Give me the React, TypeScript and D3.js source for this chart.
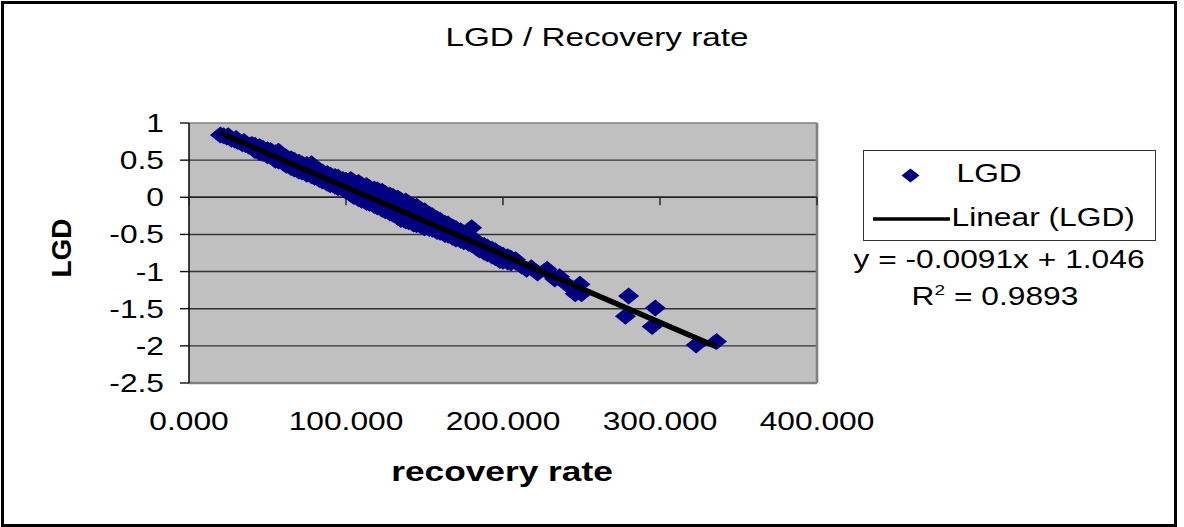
import React from 'react';
import * as d3 from 'd3';

// ---- data ----
const recoveryRate = [
  20, 22, 24, 25, 26, 27, 29, 30, 31, 33, 34, 35, 36, 38, 39, 40, 40,
  42, 42, 45, 45, 47, 47, 50, 50, 50, 52, 52, 55, 55, 55, 57, 57, 60, 60, 60,
  62, 62, 65, 65, 65, 67, 67, 70, 70, 70, 72, 72, 75, 75, 75, 78, 78, 78,
  80, 80, 83, 83, 83, 85, 85, 88, 88, 88, 90, 90, 93, 93, 93, 95, 95, 98, 98, 98, 100, 100,
  103, 103, 103, 105, 105, 108, 108, 108, 110, 110, 113, 113, 113, 115, 115, 118, 118, 118,
  120, 120, 123, 123, 123, 125, 125, 128, 128, 128, 130, 130, 133, 133, 133, 135, 135,
  138, 138, 138, 140, 140, 143, 143, 143, 145, 145, 148, 148, 148, 150, 150,
  153, 153, 153, 155, 155, 158, 158, 158, 160, 160, 163, 163, 163, 165, 165,
  168, 168, 168, 170, 170, 173, 173, 173, 175, 175, 178, 178, 178, 180, 180,
  183, 183, 183, 185, 185, 188, 188, 188, 190, 190, 193, 193, 193, 195, 195,
  198, 198, 198, 200, 200, 203, 203, 205, 205, 208, 208,
  212, 215, 218, 222, 228, 231, 233, 236, 240, 244, 246, 249, 250,
  280, 278, 297, 295, 323, 336,
];
const lgd = [
  0.84, 0.83, 0.81, 0.83, 0.8, 0.78, 0.77, 0.79, 0.75, 0.74, 0.72, 0.75, 0.71, 0.69, 0.7, 0.67, 0.71,
  0.7, 0.63, 0.68, 0.6, 0.66, 0.59, 0.64, 0.56, 0.6, 0.63, 0.55, 0.6, 0.5, 0.56, 0.62, 0.49, 0.56, 0.46, 0.52,
  0.54, 0.43, 0.52, 0.4, 0.46, 0.5, 0.38, 0.47, 0.35, 0.42, 0.45, 0.34, 0.44, 0.31, 0.38, 0.45, 0.29, 0.36,
  0.4, 0.27, 0.36, 0.24, 0.3, 0.34, 0.22, 0.32, 0.19, 0.26, 0.3, 0.17, 0.28, 0.15, 0.22, 0.27, 0.13, 0.24, 0.11, 0.17, 0.23, 0.08,
  0.24, 0.04, 0.14, 0.21, 0.01, 0.2, -0.02, 0.1, 0.17, -0.04, 0.16, -0.07, 0.06, 0.13, -0.08, 0.11, -0.11, 0.02,
  0.1, -0.13, 0.08, -0.16, -0.02, 0.05, -0.18, 0.03, -0.21, -0.06, 0.01, -0.23, -0.01, -0.27, -0.1, -0.04, -0.3,
  -0.05, -0.32, -0.14, -0.08, -0.33, -0.12, -0.36, -0.2, -0.12, -0.37, -0.17, -0.39, -0.25, -0.18, -0.41,
  -0.23, -0.42, -0.3, -0.25, -0.43, -0.29, -0.46, -0.35, -0.31, -0.47, -0.35, -0.5, -0.4, -0.36, -0.51,
  -0.4, -0.54, -0.45, -0.42, -0.56, -0.45, -0.58, -0.5, -0.48, -0.6, -0.5, -0.62, -0.55, -0.41, -0.64,
  -0.6, -0.68, -0.63, -0.62, -0.71, -0.65, -0.74, -0.69, -0.67, -0.76, -0.7, -0.79, -0.75, -0.72, -0.81,
  -0.76, -0.85, -0.8, -0.78, -0.86, -0.8, -0.87, -0.82, -0.88, -0.84, -0.87,
  -0.93, -0.97, -0.95, -1.02, -0.97, -1.05, -1.1, -1.07, -1.16, -1.22, -1.3, -1.17, -1.3,
  -1.33, -1.6, -1.49, -1.74, -1.99, -1.94,
];

const yTicks = [1, 0.5, 0, -0.5, -1, -1.5, -2, -2.5];
const yTickLabels = ['1', '0.5', '0', '-0.5', '-1', '-1.5', '-2', '-2.5'];
const xTicks = [0, 100, 200, 300, 400];
const xTickLabels = ['0.000', '100.000', '200.000', '300.000', '400.000'];

const trendSlope = -0.0091;
const trendIntercept = 1.046;
const equationText = 'y = -0.0091x + 1.046';
const r2Text = '0.9893';

const chartTitle = 'LGD / Recovery rate';
const xTitle = 'recovery rate';
const yTitle = 'LGD';
const legendPoints = 'LGD';
const legendLine = 'Linear (LGD)';

// ---- styling ----
const FONT = '"Liberation Sans", Arial, Helvetica, sans-serif';
const SX = 1.27;
const NAVY = '#000080';

function T({ x, y, anchor = 'start', size = 25, weight = 'normal', sx = SX, children }: any) {
  return (
    <text
      transform={`translate(${x},${y}) scale(${sx},1)`}
      textAnchor={anchor}
      fontSize={size}
      fontWeight={weight}
      fontFamily={FONT}
      fill="#000"
    >
      {children}
    </text>
  );
}

const diamond = (w: number, h: number) => `M0,${-h}L${w},0L0,${h}L${-w},0Z`;

export default function App() {
  const L = 189, R = 817, TOP = 123, B = 383;
  const x = d3.scaleLinear().domain([0, 400]).range([L, R]);
  const y = d3.scaleLinear().domain([-2.5, 1]).range([B, TOP]);

  const xs = recoveryRate;
  const xMin = d3.min(xs) as number;
  const xMax = d3.max(xs) as number;
  const trend = d3.line<number>()
    .x((d) => x(d))
    .y((d) => y(trendIntercept + trendSlope * d));

  const y0 = y(0);

  return (
    <svg
      width={1184}
      height={527}
      style={{ position: 'absolute', left: 0, top: 0, background: '#fff' }}
    >
      <rect x={0} y={0} width={1184} height={527} fill="#fff" />
      {/* outer border */}
      <rect x={2.5} y={2.5} width={1173} height={523} fill="none" stroke="#000" strokeWidth={3} />

      {/* title */}
      <T x={597} y={46} anchor="middle" size={25} sx={1.33}>{chartTitle}</T>

      {/* plot area */}
      <rect x={L} y={TOP} width={R - L} height={B - TOP} fill="#C0C0C0" />
      {yTicks.slice(1, -1).map((t) => (
        <line key={t} x1={L} x2={R} y1={y(t)} y2={y(t)} stroke="#333" strokeWidth={1.4} />
      ))}
      <line x1={L} x2={R} y1={TOP} y2={TOP} stroke="#808080" strokeWidth={1.5} />
      <line x1={R} x2={R} y1={TOP} y2={B} stroke="#808080" strokeWidth={2.6} />
      <line x1={L} x2={R} y1={B} y2={B} stroke="#808080" strokeWidth={2.4} />
      <line x1={L} x2={L} y1={TOP} y2={B} stroke="#111" strokeWidth={1.6} />

      {/* y ticks & labels */}
      {yTicks.map((t, i) => (
        <g key={t}>
          <line x1={180} x2={L} y1={y(t)} y2={y(t)} stroke="#111" strokeWidth={1.4} />
          <T x={164} y={y(t) + 9} anchor="end">{yTickLabels[i]}</T>
        </g>
      ))}

      {/* x axis at y=0 with tick marks */}
      <line x1={L} x2={R} y1={y0} y2={y0} stroke="#222" strokeWidth={1.5} />
      {xTicks.map((t) => (
        <line key={t} x1={x(t)} x2={x(t)} y1={y0} y2={y0 + 8} stroke="#222" strokeWidth={1.4} />
      ))}
      {xTicks.map((t, i) => (
        <T key={t} x={x(t)} y={429.5} anchor="middle">{xTickLabels[i]}</T>
      ))}

      {/* points */}
      {xs.map((d, i) => (
        <path key={i} d={diamond(10.5, 8.5)} transform={`translate(${x(d)},${y(lgd[i])})`} fill={NAVY} />
      ))}

      {/* trendline */}
      <path d={trend([xMin, xMax]) as string} stroke="#000" strokeWidth={5.4} fill="none" />

      {/* axis titles */}
      <T x={502} y={481} anchor="middle" size={28} weight="bold" sx={1.26}>{xTitle}</T>
      <text
        transform={`translate(71,248) rotate(-90)`}
        textAnchor="middle"
        fontSize={28}
        fontWeight="bold"
        fontFamily={FONT}
      >
        {yTitle}
      </text>

      {/* legend */}
      <rect x={863.5} y={150.5} width={292} height={90} fill="#fff" stroke="#333" strokeWidth={1} />
      <path d={diamond(9, 7)} transform="translate(910.5,175.5)" fill={NAVY} />
      <T x={956.5} y={181.5}>{legendPoints}</T>
      <line x1={873} x2={950} y1={219} y2={219} stroke="#000" strokeWidth={3.6} />
      <T x={951.5} y={226}>{legendLine}</T>

      {/* trendline equation */}
      <T x={999} y={268} anchor="middle">{equationText}</T>
      <text
        transform={`translate(995,305) scale(${SX},1)`}
        textAnchor="middle"
        fontSize={25}
        fontFamily={FONT}
      >
        <tspan>R</tspan>
        <tspan dy={-10} fontSize={15}>2</tspan>
        <tspan dy={10}>{` = ${r2Text}`}</tspan>
      </text>
    </svg>
  );
}
